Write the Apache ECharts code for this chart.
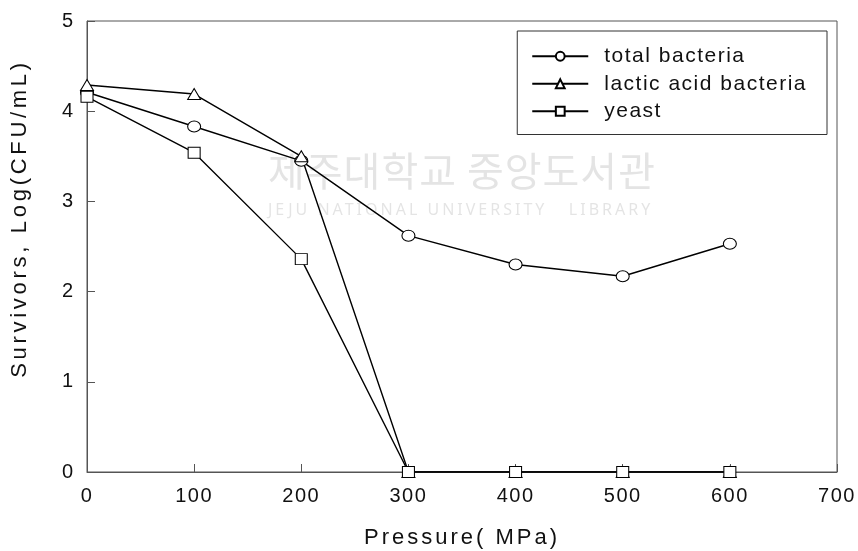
<!DOCTYPE html>
<html><head><meta charset="utf-8">
<script src="https://cdn.jsdelivr.net/npm/echarts@6/dist/echarts.min.js"></script>
<style>html,body{margin:0;padding:0;background:#fff}#c{width:858px;height:551px}</style>
</head><body><div id="c"></div>
<script>
const pressure = [0, 100, 200, 300, 400, 500, 600];
const totalBacteria = [4.21, 3.83, 3.45, 2.62, 2.30, 2.17, 2.53];
const lacticAcidBacteria = [4.29, 4.19, 3.50, 0, 0, 0, 0];
const yeast = [4.16, 3.54, 2.36, 0, 0, 0, 0];
const seriesNames = ['total bacteria', 'lactic acid bacteria', 'yeast'];

// letter spacing: a marker family name "LSp<n>" in the font string sets ctx.letterSpacing
(function () {
  const P = CanvasRenderingContext2D.prototype;
  function apply(ctx) {
    const m = /LSp(\d+(?:_\d+)?)/.exec(ctx.font || '');
    ctx.letterSpacing = m ? m[1].replace('_', '.') + 'px' : '0px';
  }
  const ft = P.fillText, st = P.strokeText, mt = P.measureText;
  P.fillText = function () { apply(this); return ft.apply(this, arguments); };
  P.strokeText = function () { apply(this); return st.apply(this, arguments); };
  P.measureText = function () { apply(this); return mt.apply(this, arguments); };
})();
function fam(ls) { return 'LSp' + String(ls).replace('.', '_') + ', "Liberation Sans", Arial, sans-serif'; }

const chart = echarts.init(document.getElementById('c'));
function mk(name, vals, sym, size) {
  return {
    name: name, type: 'line', data: pressure.map((p, i) => [p, vals[i]]),
    symbol: sym, symbolSize: size, showAllSymbol: true,
    lineStyle: {color: '#000', width: 1.4},
    itemStyle: {color: '#fff', borderColor: '#000', borderWidth: 1},
    emphasis: {disabled: true}, animation: false
  };
}
chart.setOption({
  animation: false,
  grid: {left: 87, right: 21, top: 21, bottom: 79, show: true, borderColor: '#555', borderWidth: 1,
         containLabel: false, outerBoundsMode: 'none'},
  legend: {
    right: 31, top: 31, orient: 'vertical', itemWidth: 56, itemHeight: 11, itemGap: 5,
    padding: [14, 20, 12, 14], borderColor: '#333', borderWidth: 1, backgroundColor: '#fff',
    textStyle: {fontFamily: fam(1.5), fontSize: 21, color: '#111', padding: [0, 0, 0, 11]},
    data: seriesNames
  },
  xAxis: {
    type: 'value', min: 0, max: 700, interval: 100,
    name: 'Pressure( MPa)', nameLocation: 'middle', nameGap: 53,
    nameTextStyle: {fontFamily: fam(3), fontSize: 22, color: '#111'},
    axisLine: {lineStyle: {color: '#555'}},
    axisTick: {inside: true, length: 8, lineStyle: {color: '#555'}},
    axisLabel: {fontFamily: fam(1.5), fontSize: 20, color: '#111', margin: 14},
    splitLine: {show: false}
  },
  yAxis: {
    type: 'value', min: 0, max: 5, interval: 1,
    name: 'Survivors, Log(CFU/mL)', nameLocation: 'middle', nameGap: 54,
    nameTextStyle: {fontFamily: fam(3.7), fontSize: 22, color: '#111', padding: [0, 0, 0, 56]},
    axisLine: {show: true, lineStyle: {color: '#555'}},
    axisTick: {show: true, inside: true, length: 8, lineStyle: {color: '#555'}},
    axisLabel: {fontFamily: fam(0), fontSize: 20, color: '#111', margin: 14},
    splitLine: {show: false}
  },
  graphic: [
    {type: 'text', left: 268, top: 150, silent: true, z: 0,
     style: {text: '제주대학교 중앙도서관', font: '40px LSp1, "Noto Sans CJK KR"', fill: 'rgba(120,120,120,0.2)'}},
    {type: 'text', left: 268, top: 201, silent: true, z: 0,
     style: {text: 'JEJU NATIONAL UNIVERSITY   LIBRARY', font: '16px LSp3, "Noto Sans", sans-serif', fill: 'rgba(120,120,120,0.2)'}}
  ],
  series: [
    mk(seriesNames[0], totalBacteria, 'circle', [13, 11]),
    mk(seriesNames[1], lacticAcidBacteria, 'triangle', [13, 11]),
    mk(seriesNames[2], yeast, 'rect', [12, 11])
  ]
});
</script></body></html>
